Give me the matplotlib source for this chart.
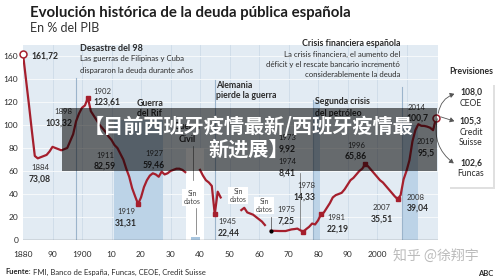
import matplotlib
matplotlib.use('Agg')
import matplotlib.pyplot as plt
import numpy as np
from matplotlib.patches import Rectangle, FancyArrowPatch

W, H = 500, 280
RED = '#a51f2d'
DARK = '#2b2b2b'
BG = '#e2ebf3'
BAND = '#bcd3e7'
LEAD = '#9bb4cb'
FONT = 'Lato'
CJK = ['Noto Sans CJK SC', 'DejaVu Sans']

nan = np.nan

# deuda publica en % del PIB, 1880-2020 (nan = sin datos)
years = list(range(1880, 2021))
debt = [
    161.72, 140, 118, 95, 73.08, 71, 72, 73, 74, 77,        # 1880s
    81, 80, 79, 78, 79, 80, 86, 92, 103.32, 110,            # 1890s
    115, 117, 123.61, 112, 108, 104, 100, 97, 94, 90,       # 1900s
    87, 82.59, 80, 75, 70, 62, 55, 45, 38, 31.31,           # 1910s
    37, 46, 52, 56, 58, 57, 55, 59.46, 57, 58,              # 1920s
    60, 61, 62, 62, 61, 59, nan, nan, nan, nan,             # 1930s
    61, 56, 52, 50, 47, 22.44, 42, 37, nan, nan,            # 1940s
    nan, nan, nan, nan, 26, 28, 24, 23, 22, 20,             # 1950s
    18, 16, 13, nan, 8, 8, 7.9, 7.8, 7.8, 7.8,              # 1960s
    8.5, 9.2, 9.5, 9.92, 8.41, 7.25, 9.5, 11.5, 14.33, 13.5,  # 1970s
    17, 22.19, 24, 28, 32, 37, 39, 40, 41, 44,              # 1980s
    48, 52, 54, 57, 60, 62, 65.86, 64, 61, 58,              # 1990s
    55, 52, 50, 47, 44, 41, 38, 35.51, 39.04, 52.7,         # 2000s
    60.1, 69.5, 85.7, 95.5, 100.7, 99.3, 99.2, 98.6, 97.6, 95.5,  # 2010s
    106,                                                    # 2020
]

marked_years = [1902, 1919, 1945, 1975, 1981, 1996, 2007]

# (year label, value label)
point_labels = [
    ('1884', '73,08'), ('1898', '103,32'), ('1902', '123,61'), ('1911', '82,59'),
    ('1919', '31,31'), ('1927', '59,46'), ('1945', '22,44'), ('1973', '9,92'),
    ('1974', '8,41'), ('1975', '7,25'), ('1978', '14,33'), ('1981', '22,19'),
    ('1996', '65,86'), ('2007', '35,51'), ('2008', '39,04'), ('2014', '100,7'),
    ('2019', '95,5'),
]

forecast_values = ['108,0', '105,3', '102,6']
forecast_sources = ['CEOE', 'Credit\nSuisse', 'Funcas']

x_ticks = list(range(1880, 2001, 10))
x_labels = ['1880', '90', '1900', '10', '20', '30', '40', '50', '60', '70', '80', '90', '2000']
y_ticks = list(range(0, 161, 20))

fig = plt.figure(figsize=(W / 100, H / 100), dpi=100)
fig.patch.set_facecolor('white')


def ftxt(x, y, s, size=5.5, weight='normal', ha='left', color=DARK, family=FONT, **kw):
    """text placed in figure pixels (origin top-left)"""
    return fig.text(x / W, 1 - y / H, s, fontsize=size, fontweight=weight, ha=ha,
                    va='center', color=color, family=family, **kw)


ax = fig.add_axes([23 / W, 1 - 240 / H, 414.5 / W, 195.5 / H])
ax.set_facecolor(BG)
ax.set_xlim(1880, 2020.5)
ax.set_ylim(0, 170)
for s in ax.spines.values():
    s.set_visible(False)
ax.set_xticks(x_ticks)
ax.set_xticklabels(x_labels)
ax.set_yticks(y_ticks)
ax.tick_params(length=0, labelsize=6, colors=DARK)
ax.tick_params(axis='x', pad=8)
ax.tick_params(axis='y', pad=3.5)
for lbl in ax.get_xticklabels() + ax.get_yticklabels():
    lbl.set_family(FONT)
ax.set_axisbelow(True)
ax.grid(axis='y', color='#f6f9fb', lw=0.7)
for d in range(1890, 2020, 10):
    ax.axvline(d, color='#cddbe8', lw=0.6, zorder=0.5)

# periods
ax.axvspan(1911, 1927.5, ymax=104 / 170, color=BAND, lw=0, zorder=0.6)
ax.axvspan(1978.3, 1980.8, ymax=120 / 170, color=BAND, lw=0, zorder=0.6)
ax.axvspan(2008.5, 2014, ymax=100 / 170, color=BAND, lw=0, zorder=0.6)
ax.axvspan(1935.3, 1941.3, ymax=80 / 170, color='white', lw=0, zorder=0.7)
ax.add_patch(Rectangle((1937, 0), 3, 3, color='#a9c6df', lw=0, zorder=0.8))

# leader lines of the events
ax.plot([1898, 1898], [0, 141], color=LEAD, lw=0.8, zorder=1)
ax.plot([1945, 1945], [0, 139], color=LEAD, lw=0.8, zorder=1)
ax.plot([1978.3, 1978.3], [0, 122], color=LEAD, lw=0.8, zorder=1)
ax.plot([2008.5, 2008.5], [0, 133], color=LEAD, lw=0.8, zorder=1)
ax.plot([1937.6, 1937.6], [52, 82], color='#666666', lw=0.5, zorder=1)
ax.plot([1938.5, 1938.5], [5, 28], color='#666666', lw=0.5, zorder=1)
ax.plot([1974, 1974], [8.41, 58], color='#666666', lw=0.5, zorder=1)

ax.axhline(0, color='#4a4a4a', lw=0.9, zorder=3)

# the series
ax.plot(years, debt, color=RED, lw=1.6, zorder=5, solid_joinstyle='round')
mv = [debt[years.index(y)] for y in marked_years]
ax.plot(marked_years, mv, 's', ms=2.6, color=RED, zorder=6)
ax.plot([years[0], years[-1]], [debt[0], debt[-1]], 'o', ms=5, mfc='white',
        mec=RED, mew=1.1, zorder=7, clip_on=False)
# start of the last segment after the gap
i64 = years.index(1964)
ax.plot([1964, 1964], [debt[i64], 20], color='#444444', lw=0.5, zorder=4)
ax.plot([1964], [debt[i64]], 'o', ms=2, color='black', zorder=7)

# title block
ftxt(30, 13, 'Evolución histórica de la deuda pública española', size=10.8, weight='bold', color='#1e1e1e')
ftxt(30, 28, 'En % del PIB', size=9, color='#333333')

ftxt(80, 48, 'Desastre del 98', size=6.5, weight='bold')
ftxt(80, 59, 'Las guerras de Filipinas y Cuba', size=5.6)
ftxt(80, 70, 'dispararon la deuda durante años', size=5.6)

ftxt(400, 43, 'Crisis financiera española', size=6.3, weight='bold', ha='right')
ftxt(400, 54, 'La crisis financiera, el aumento del', size=5.6, ha='right')
ftxt(400, 64.5, 'déficit y el rescate bancario incrementó', size=5.6, ha='right')
ftxt(400, 75, 'considerablemente la deuda', size=5.6, ha='right')

ftxt(137, 103, 'Guerra', size=6.3, weight='bold')
ftxt(137, 114, 'del Rif', size=6.3, weight='bold')
ftxt(187, 127, 'Guerra', size=6.3, weight='bold', ha='center')
ftxt(187, 139, 'Civil', size=6.3, weight='bold', ha='center')
ftxt(216, 85, 'Alemania', size=6.3, weight='bold')
ftxt(216, 96, 'pierde la guerra', size=6.3, weight='bold')
ftxt(315, 102, 'Segunda crisis', size=6.3, weight='bold')
ftxt(315, 113, 'del petróleo', size=6.3, weight='bold')

for x, y in [(192, 193), (238, 191), (264, 201)]:
    ftxt(x, y + 4.5, 'Sin\ndatos', size=5, ha='center', color='#444444', linespacing=1.1,
         bbox=dict(facecolor='white', edgecolor='none', pad=1))

ftxt(31, 56, '161,72', size=6.2, weight='bold')

# (x px, y px of year, alignment) for each point label
label_pos = [(40, 168, 'center'), (72, 112, 'right'), (93, 91, 'left'), (105, 155, 'center'),
             (126, 212, 'center'), (154, 154, 'center'), (218, 222, 'left'), (287, 138, 'center'),
             (287, 162, 'center'), (286, 210, 'center'), (315, 186, 'right'), (327, 218, 'left'),
             (356, 145, 'center'), (382, 208, 'center'), (407, 197, 'left'), (417, 107, 'center'),
             (435, 142, 'right')]
for (yr, val), (x, y, ha) in zip(point_labels, label_pos):
    ftxt(x, y, yr, size=5.6, ha=ha, color='#333333')
    ftxt(x, y + 11, val, size=6.2, weight='bold', ha=ha)

# forecast panel
fig.patches.append(Rectangle((450 / W, 1 - 189 / H), 45 / W, 104 / H, transform=fig.transFigure,
                             facecolor='#000000', alpha=0.12, lw=0, zorder=1))
fig.patches.append(Rectangle((448 / W, 1 - 187 / H), 45 / W, 104 / H, transform=fig.transFigure,
                             facecolor='white', lw=0, zorder=2))
ftxt(471, 72, 'Previsiones', size=6.2, weight='bold', ha='center')
for val, src, y in zip(forecast_values, forecast_sources, [92, 121, 163]):
    ftxt(471, y, val, size=6.2, weight='bold', ha='center', zorder=3)
    ftxt(471, y + 11 + (5.5 if '\n' in src else 0), src, size=6.2, ha='center', zorder=3,
         linespacing=1.25)

start = (438 / W, 1 - 116 / H)
for (ex, ey), rad in zip([(457, 93), (457, 122), (456, 165)], [-0.35, 0.0, 0.35]):
    arr = FancyArrowPatch(start, (ex / W, 1 - ey / H), transform=fig.transFigure,
                          connectionstyle=f'arc3,rad={rad}', arrowstyle='-|>,head_length=2.5,head_width=1.5',
                          color='#555555', lw=0.6, zorder=4)
    fig.patches.append(arr)

# footer
t = ftxt(5, 272, 'Fuente:', size=5.5, weight='bold')
fig.canvas.draw()
bb = t.get_window_extent(fig.canvas.get_renderer())
fig.text(bb.x1 / W + 0.004, 1 - 272 / H, 'FMI, Banco de España, Funcas, CEOE, Credit Suisse',
         fontsize=5.5, family=FONT, va='center', color=DARK)
ftxt(493, 273, 'ABC', size=5.5, weight='bold', ha='right')
ftxt(393, 257, '知乎 @徐翔宇', size=10, color='#b4b4b4', family=CJK, alpha=0.9)

# overlay banner
fig.patches.append(Rectangle((62 / W, 1 - 171 / H), 375 / W, 63 / H, transform=fig.transFigure,
                             facecolor='black', alpha=0.55, lw=0, zorder=20))
ftxt(249, 126, '【目前西班牙疫情最新/西班牙疫情最', size=14.5, weight='bold', ha='center',
     color='white', family=CJK, zorder=21)
ftxt(249, 149, '新进展】', size=14.5, weight='bold', ha='center', color='white', family=CJK, zorder=21)

fig.savefig('out.png', dpi=100, facecolor='white')
